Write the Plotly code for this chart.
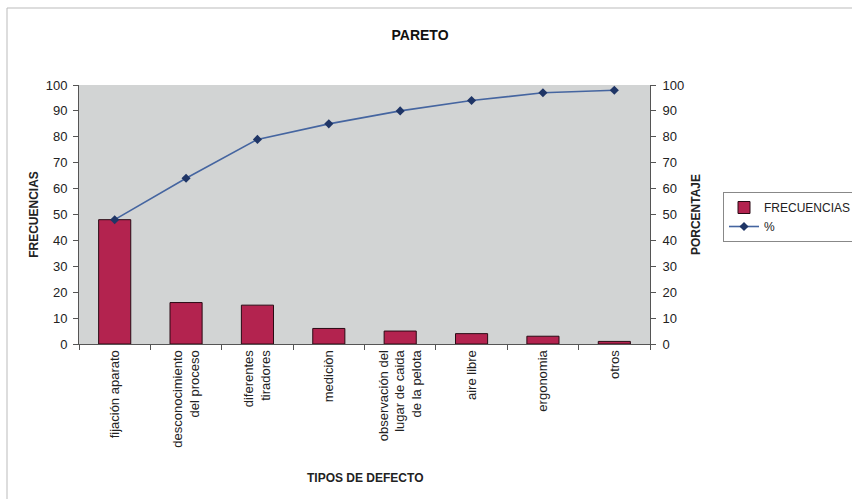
import plotly.graph_objects as go

categorias = ["fijación aparato", "desconocimiento<br>del proceso", "diferentes<br>tiradores",
              "mediciòn", "observación del<br>lugar de caida<br>de la pelota", "aire libre",
              "ergonomia", "otros"]
frecuencias = [48, 16, 15, 6, 5, 4, 3, 1]
porcentaje = [48, 64, 79, 85, 90, 94, 97, 98]
ticks_y = [0, 10, 20, 30, 40, 50, 60, 70, 80, 90, 100]

FONT = "Arial, 'Liberation Sans', sans-serif"

fig = go.Figure()
fig.add_trace(go.Bar(x=categorias, y=frecuencias, name="FRECUENCIAS",
                     marker=dict(color="#B3234F", line=dict(color="#2a0a14", width=1)),
                     width=0.45))
fig.add_trace(go.Scatter(x=categorias, y=porcentaje, name="%", yaxis="y2",
                         mode="lines+markers",
                         line=dict(color="#4565A0", width=1.6),
                         marker=dict(symbol="diamond", size=7, color="#1F3566")))

L, R, T, B = 79, 650, 85, 344
W, H = 852, 499
pw, ph = R - L, B - T

fig.update_layout(
    width=W, height=H,
    margin=dict(l=L, r=W - R, t=T, b=H - B, autoexpand=False),
    paper_bgcolor="white", plot_bgcolor="#D2D4D4",
    font=dict(family=FONT, size=12, color="#222"),
    title=dict(text="<b>PARETO</b>", x=420 / W, xanchor="center",
               y=1 - 35 / H, yanchor="middle", font=dict(size=14, color="#111")),
    showlegend=True,
    legend=dict(x=(723 - L) / pw, y=(B - 192) / ph, xanchor="left", yanchor="top",
                bgcolor="white", bordercolor="#888", borderwidth=1,
                font=dict(size=12, color="#222"), tracegroupgap=0),
    bargap=0.55,
    xaxis=dict(type="category", showgrid=False, showline=True, linecolor="#555",
               ticks="outside", tickson="boundaries", ticklen=5, tickcolor="#555",
               tickangle=-90, tickfont=dict(size=13), automargin=False,
               range=[-0.5, 7.5]),
    yaxis=dict(range=[0, 100], tickvals=ticks_y, showgrid=False, zeroline=False,
               showline=True, linecolor="#555", ticks="outside", ticklen=5, tickcolor="#555",
               tickfont=dict(size=13), ticklabelstandoff=3, automargin=False,
               title=dict(text="<b>FRECUENCIAS</b>", font=dict(size=12), standoff=4)),
    yaxis2=dict(range=[0, 100], tickvals=ticks_y, overlaying="y", side="right",
                showgrid=False, zeroline=False, showline=True, linecolor="#555",
                ticks="outside", ticklen=5, tickcolor="#555", tickfont=dict(size=13),
                ticklabelstandoff=4, automargin=False,
                title=dict(text="<b>PORCENTAJE</b>", font=dict(size=12), standoff=8)),
)

fig.add_annotation(text="<b>TIPOS DE DEFECTO</b>", xref="paper", yref="paper",
                   x=(365 - L) / pw, y=(B - 478) / ph, xanchor="center", yanchor="middle",
                   showarrow=False, font=dict(size=12, color="#222"))

# outer chart border
fig.add_shape(type="rect", xref="paper", yref="paper",
              x0=(7 - L) / pw, x1=(W + 20 - L) / pw,
              y0=(B - (H + 20)) / ph, y1=(B - 8) / ph,
              line=dict(color="#BBBBBB", width=1), fillcolor="rgba(0,0,0,0)", layer="below")

fig.write_html("out.html")
